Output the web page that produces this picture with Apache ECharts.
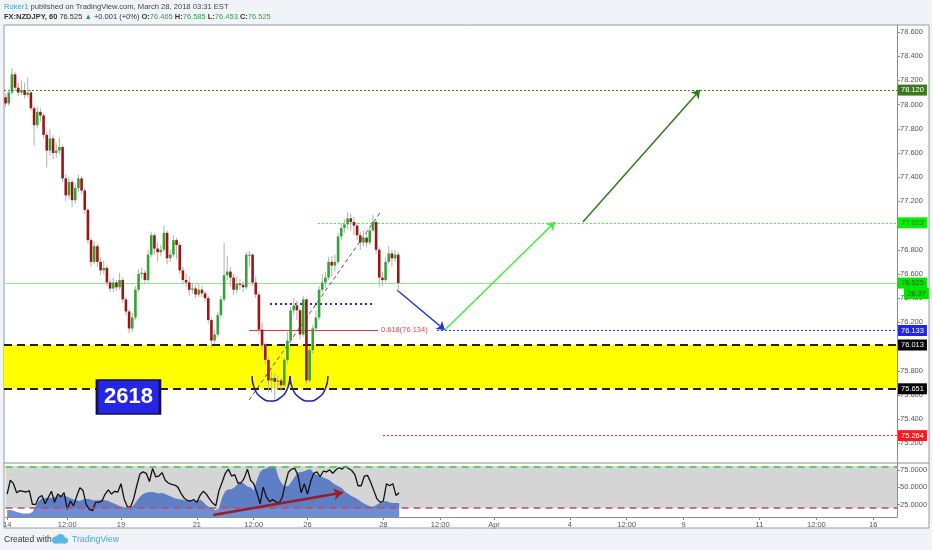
<!DOCTYPE html>
<html><head><meta charset="utf-8">
<script src="https://cdn.jsdelivr.net/npm/echarts@6/dist/echarts.min.js"></script>
<style>html,body{margin:0;padding:0;background:#f0f3f7;}#c{width:932px;height:550px;}</style>
</head><body><div id="c"></div>
<script>
// ---- x axis (2-hour slots) ----
const slotMin = -0.5, slotMax = 281.5;
const tickSlots = [0,19,36,60,78,95,119,137,154,178,196,214,238,256,274];
const tickLabels = ['14','12:00','19','21','12:00','26','28','12:00','Apr','4','12:00','9','11','12:00','16'];
// ---- price (NZDJPY, 2h candles) ----
const firstOpen = 78.06;
const closes = [
78.01,78.10,78.25,78.14,78.10,78.12,78.08,78.10,77.97,77.83,
77.94,77.91,77.75,77.62,77.72,77.60,77.62,77.65,77.39,77.25,
77.36,77.21,77.31,77.39,77.29,77.13,76.88,76.70,76.83,76.70,
76.63,76.65,76.53,76.48,76.53,76.49,76.55,76.39,76.29,76.15,
76.24,76.47,76.60,76.61,76.55,76.76,76.92,76.81,76.78,76.80,
76.94,76.73,76.76,76.88,76.84,76.63,76.55,76.53,76.47,76.48,
76.43,76.47,76.44,76.40,76.22,76.05,76.10,76.26,76.39,76.59,
76.62,76.57,76.47,76.52,76.51,76.49,76.76,76.76,76.53,76.43,
76.14,76.01,75.89,75.72,75.74,75.71,75.72,75.68,75.89,76.05,
76.30,76.34,76.30,76.10,76.39,75.72,75.97,76.15,76.24,76.47,
76.53,76.57,76.70,76.67,76.70,76.91,76.98,77.01,77.06,77.03,
77.00,76.92,76.86,76.90,76.86,76.96,77.03,76.80,76.57,76.55,
76.70,76.77,76.73,76.76,76.525];
const highs = [
78.09,78.13,78.30,78.27,78.18,78.20,78.18,78.22,78.12,77.99,
77.98,77.97,77.93,77.77,77.80,77.75,77.68,77.73,77.67,77.42,
77.40,77.38,77.35,77.42,77.41,77.31,77.15,76.90,76.87,76.85,
76.74,76.71,76.67,76.56,76.57,76.55,76.61,76.57,76.41,76.31,
76.28,76.50,76.64,76.65,76.63,76.80,76.95,76.94,76.86,76.84,
77.00,76.96,76.80,76.92,76.90,76.86,76.66,76.60,76.58,76.53,
76.51,76.52,76.50,76.46,76.42,76.24,76.14,76.29,76.42,76.86,
76.75,76.66,76.60,76.58,76.56,76.54,76.78,76.79,76.77,76.58,
76.45,76.20,76.03,75.91,75.80,75.78,75.76,75.74,75.91,76.12,
76.33,76.40,76.38,76.32,76.42,76.40,76.00,76.18,76.30,76.50,
76.60,76.62,76.74,76.75,76.76,76.94,77.02,77.05,77.11,77.10,
77.07,77.03,76.95,76.96,76.94,77.00,77.09,77.05,76.82,76.62,
76.74,76.83,76.80,76.80,76.78];
const lows = [
77.98,77.99,78.08,78.11,78.07,78.08,78.05,78.06,77.95,77.66,
77.80,77.86,77.72,77.48,77.58,77.55,77.56,77.59,77.36,77.20,
77.22,77.15,77.18,77.28,77.26,77.10,76.85,76.66,76.68,76.66,
76.59,76.60,76.50,76.45,76.45,76.46,76.47,76.36,76.26,76.11,
76.12,76.22,76.45,76.56,76.52,76.53,76.74,76.76,76.70,76.75,
76.78,76.68,76.70,76.74,76.72,76.60,76.52,76.49,76.42,76.44,
76.40,76.41,76.41,76.37,76.19,75.99,76.02,76.08,76.24,76.37,
76.55,76.50,76.43,76.44,76.47,76.45,76.47,76.66,76.50,76.40,
76.10,75.97,75.85,75.62,75.62,75.56,75.64,75.63,75.66,75.86,
76.03,76.26,76.22,76.06,76.08,75.69,75.70,75.94,76.12,76.22,
76.44,76.48,76.55,76.58,76.62,76.68,76.88,76.94,76.97,76.96,
76.92,76.88,76.80,76.83,76.82,76.84,76.94,76.77,76.49,76.50,
76.53,76.68,76.66,76.70,76.453];
// ---- oscillator pane ----
const stochK = [
40,60,55,42,45,44,43,45,25,25,
35,38,26,35,44,28,40,36,42,18,
30,23,37,49,45,25,18,16,28,28,
30,40,46,40,44,43,55,33,22,21,
33,52,69,72,70,58,77,65,66,71,
60,56,54,53,50,41,34,31,30,32,
28,38,44,40,33,27,23,45,57,70,
76,66,68,56,56,63,76,60,55,42,
26,50,36,29,32,29,27,35,55,72,
76,77,67,42,55,40,58,70,72,65,
73,72,75,70,75,78,76,80,77,74,
68,52,52,66,67,57,45,33,28,30,
55,52,55,38,42];
const areaOsc = [
17,17,16,14,13,12,12,12,14,22,
30,34,34,35,34,36,37,38,38,36,
34,32,31,30,32,33,33,31,31,31,
32,31,30,28,26,24,22,21,20,20,
24,30,36,40,42,43,43,42,41,42,
40,38,36,34,33,32,31,31,30,30,
30,32,29,24,21,19,17,20,35,44,
47,47,50,55,56,55,51,50,45,60,
72,76,77,80,80,77,62,54,51,52,
58,65,71,72,73,75,76,70,68,66,
64,62,60,56,53,51,48,43,40,37,
35,32,29,26,24,22,22,25,27,29,
30,28,27,27,27];
const oscLastLabel = '28.37';
const priceTicks = [75.2,75.4,75.6,75.8,76.0,76.2,76.4,76.6,76.8,77.0,77.2,77.4,77.6,77.8,78.0,78.2,78.4,78.6];
const oscTicks = [25,50,75];
const oscUpper = 80, oscLower = 20;
// ---- levels / drawings (data space) ----
const zoneTop = 76.013, zoneBottom = 75.651;
const target1 = 78.120, target2 = 77.023, lastPrice = 76.525, entry = 76.133, stopLevel = 75.264;
const fibLevel = 76.134, fibStart = 76.9, fibEnd = 117.6;
const neckLevel = 76.352, neckStart = 83.5, neckEnd = 115.7;
const trendFrom = [76.9, 75.559], trendTo = [118.2, 77.104];
const arrowBlue = [[123.6, 76.468],[138.7, 76.137]];
const arrowGreen = [[138.7, 76.137],[173.5, 77.030]];
const arrowDark = [[182.3, 77.030],[219.3, 78.120]];
const oscArrow = [[65.2, 9.9],[106.2, 42.2]];
const arc1 = [[77.81,75.757],[78.6,75.654],[80.81,75.578],[83.81,75.550],[86.81,75.578],[89.02,75.654],[89.81,75.757]];
const arc2 = [[89.81,75.757],[90.6,75.654],[92.81,75.578],[95.81,75.550],[98.81,75.578],[101.02,75.654],[101.81,75.757]];
const boxPos = [38.8, 75.584];

const FONT = 'Liberation Sans, Arial, sans-serif';
const ohlc = closes.map((c,i)=>[i, i===0?firstOpen:closes[i-1], c, lows[i], highs[i]]);

function tag(v, bg, fg){
  return {show:true, position:'end', distance:1, formatter: v.toFixed(3), backgroundColor:bg, color:fg,
    padding:[2,3,1,3], fontSize:7.5, fontFamily:FONT};
}
function hline(v, from, style, label){
  return [{coord:[from, v], lineStyle:style, label: label || {show:false}}, {coord:[slotMax, v]}];
}

const chart = echarts.init(document.getElementById('c'), null, {renderer:'canvas'});
const option = {
  animation:false,
  textStyle:{fontFamily:FONT},
  grid:[
    {left:4, right:35, top:25, height:437},
    {left:4, right:35, top:463, height:54}
  ],
  xAxis:[
    {type:'value', gridIndex:0, min:slotMin, max:slotMax, show:false},
    {type:'value', gridIndex:1, min:slotMin, max:slotMax,
      axisLine:{show:true, onZero:false, lineStyle:{color:'#8c8c8c'}},
      axisTick:{show:true, length:3, lineStyle:{color:'#8c8c8c'}, customValues:tickSlots},
      axisLabel:{customValues:tickSlots, fontSize:7.5, color:'#555', margin:4,
        formatter:v=>tickLabels[tickSlots.indexOf(Math.round(v))] || ''},
      splitLine:{show:false}}
  ],
  yAxis:[
    {type:'value', gridIndex:0, position:'right', min:75.046, max:78.658,
      axisLine:{show:true, onZero:false, lineStyle:{color:'#8c8c8c'}},
      axisTick:{show:true, length:3, lineStyle:{color:'#8c8c8c'}, customValues:priceTicks},
      axisLabel:{customValues:priceTicks, fontSize:7.5, color:'#555', margin:3, formatter:v=>v.toFixed(3)},
      splitLine:{show:false}},
    {type:'value', gridIndex:1, position:'right', min:6.9, max:84.85,
      axisLine:{show:true, onZero:false, lineStyle:{color:'#8c8c8c'}},
      axisTick:{show:true, length:3, lineStyle:{color:'#8c8c8c'}, customValues:oscTicks},
      axisLabel:{customValues:oscTicks, fontSize:7.5, color:'#555', margin:3, formatter:v=>v.toFixed(4)},
      splitLine:{show:false}}
  ],
  series:[
    // yellow zone
    {type:'line', xAxisIndex:0, yAxisIndex:0, data:[], z:1, silent:true,
      markArea:{silent:true, itemStyle:{color:'#ffff00'},
        data:[[{coord:[slotMin, zoneTop]},{coord:[slotMax, zoneBottom]}]]}},
    // candles
    {type:'custom', xAxisIndex:0, yAxisIndex:0, z:5, silent:true,
      encode:{x:0, y:[1,2,3,4]}, data:ohlc,
      renderItem:(params, api)=>{
        const x=api.value(0), o=api.value(1), c=api.value(2), l=api.value(3), h=api.value(4);
        const pO=api.coord([x,o]), pC=api.coord([x,c]), pL=api.coord([x,l]), pH=api.coord([x,h]);
        const w=api.size([1,0])[0]*0.82;
        const top=Math.min(pO[1],pC[1]); const bh=Math.max(1,Math.abs(pO[1]-pC[1]));
        return {type:'group', children:[
          {type:'line', shape:{x1:pH[0],y1:pH[1],x2:pL[0],y2:pL[1]}, style:{stroke:'#b0b0b0', lineWidth:1}},
          {type:'rect', shape:{x:pO[0]-w/2, y:top, width:w, height:bh}, style:{fill: c>=o?'#34a334':'#9b1515'}}
        ]};
      }},
    // levels
    {type:'line', xAxisIndex:0, yAxisIndex:0, data:[], z:6, silent:true,
      markLine:{silent:true, symbol:['none','none'], animation:false,
        data:[
          hline(target1, slotMin, {color:'#3b7d1e', type:[2,2], width:1.2}, tag(target1,'#3a7a1c','#ffffff')),
          hline(target2, 98.6, {color:'#3ee83e', type:[2,2], width:1.2}, tag(target2,'#00f000','#1f7a10')),
          hline(lastPrice, slotMin, {color:'#8fe88f', type:'solid', width:1}, tag(lastPrice,'#00e400','#1f6a10')),
          hline(entry, 136.2, {color:'#2a2ae8', type:[2,2], width:1.2}, tag(entry,'#2323f0','#ffffff')),
          hline(zoneTop, slotMin, {color:'#222', type:[8,5], width:2}, tag(zoneTop,'#000000','#ffffff')),
          hline(zoneBottom, slotMin, {color:'#222', type:[8,5], width:2}, tag(zoneBottom,'#000000','#ffffff')),
          hline(stopLevel, 119.2, {color:'#ee3030', type:[2,2], width:1.2}, tag(stopLevel,'#ff1a1a','#ffffff')),
          [{coord:[fibStart, fibLevel], lineStyle:{color:'#e03a3a', type:'solid', width:1.2},
            label:{show:true, position:'end', distance:3, formatter:'0.618('+fibLevel.toFixed(3)+')', color:'#e24848', fontSize:7.5, fontFamily:FONT}},
           {coord:[fibEnd, fibLevel]}],
          [{coord:[neckStart, neckLevel], lineStyle:{color:'#2b2bd6', type:[2,3], width:2}, label:{show:false}},
           {coord:[neckEnd, neckLevel]}],
          [{coord:trendFrom, lineStyle:{color:'#555', type:[4,3], width:1}, label:{show:false}},
           {coord:trendTo}]
        ]}},
    // arrows + 2618 box
    {type:'line', xAxisIndex:0, yAxisIndex:0, data:[], z:7, silent:true,
      markLine:{silent:true, symbol:['none','arrow'], symbolSize:8, animation:false, label:{show:false},
        data:[
          [{coord:arrowBlue[0], lineStyle:{color:'#2035d8', type:'solid', width:1.5}}, {coord:arrowBlue[1]}],
          [{coord:arrowGreen[0], lineStyle:{color:'#3cf03c', type:'solid', width:1.5}}, {coord:arrowGreen[1]}],
          [{coord:arrowDark[0], lineStyle:{color:'#2f7a1c', type:'solid', width:1.5}}, {coord:arrowDark[1]}]
        ]},
      markPoint:{silent:true, animation:false,
        data:[{coord:boxPos, symbol:'rect', symbolSize:[63,34],
          itemStyle:{color:'#2525e8', borderColor:'#11114a', borderWidth:2},
          label:{show:true, position:'inside', formatter:'2618', color:'#fff', fontSize:22, fontWeight:'bold', fontFamily:FONT}}]}},
    // arcs
    {type:'line', xAxisIndex:0, yAxisIndex:0, data:arc1, smooth:true, symbol:'none', z:7, silent:true,
      lineStyle:{color:'#2222a8', width:1.5}},
    {type:'line', xAxisIndex:0, yAxisIndex:0, data:arc2, smooth:true, symbol:'none', z:7, silent:true,
      lineStyle:{color:'#2222a8', width:1.5}},
    // oscillator band
    {type:'line', xAxisIndex:1, yAxisIndex:1, data:[], z:1, silent:true,
      markArea:{silent:true, itemStyle:{color:'#d5d5d5'},
        data:[[{coord:[slotMin, oscUpper]},{coord:[slotMax, oscLower]}]]}},
    // blue area
    {type:'line', xAxisIndex:1, yAxisIndex:1, z:2, silent:true, symbol:'none',
      data:areaOsc.map((v,i)=>[i,v]),
      lineStyle:{width:0}, areaStyle:{origin:'start', color:'rgba(30,80,190,0.65)', opacity:1}},
    // black line
    {type:'line', xAxisIndex:1, yAxisIndex:1, z:3, silent:true, symbol:'none',
      data:stochK.map((v,i)=>[i,v]),
      lineStyle:{color:'#111', width:1.3}},
    // bands + arrow
    {type:'line', xAxisIndex:1, yAxisIndex:1, data:[], z:4, silent:true,
      markLine:{silent:true, symbol:['none','none'], animation:false, label:{show:false},
        data:[
          [{coord:[slotMin, oscUpper], lineStyle:{color:'#3ccc3c', type:[7,5], width:1.5}}, {coord:[slotMax, oscUpper]}],
          [{coord:[slotMin, oscLower], lineStyle:{color:'#c8485c', type:[7,5], width:1.5}}, {coord:[slotMax, oscLower]}],
          [{coord:oscArrow[0], symbol:'none', lineStyle:{color:'#9b1c22', type:'solid', width:2.5}}, {coord:oscArrow[1], symbol:'arrow', symbolSize:9}]
        ]}}
  ],
  graphic:[
    {type:'rect', z:-100, silent:true, shape:{x:4, y:25, width:925, height:503}, style:{fill:'#ffffff', stroke:'#9a9a9a', lineWidth:1}},
    {type:'line', z:100, silent:true, shape:{x1:4, y1:463, x2:929, y2:463}, style:{stroke:'#8c8c8c', lineWidth:1}},
    {type:'text', left:4, top:3, silent:true, style:{
      text:'{a|Roker1}{t| published on TradingView.com, March 28, 2018 03:31 EST}',
      rich:{a:{fill:'#3fa0d8', fontSize:7.6, fontFamily:FONT}, t:{fill:'#444', fontSize:7.6, fontFamily:FONT}}}},
    {type:'text', left:4, top:13, silent:true, style:{
      text:'{b|FX:NZDJPY, 60}{n| 76.525 }{g|▲}{n| +0.001 (+0%) }{b|O:}{g|76.465 }{b|H:}{g|76.585 }{b|L:}{g|76.453 }{b|C:}{g|76.525}',
      rich:{b:{fill:'#333', fontSize:7.5, fontWeight:'bold', fontFamily:FONT}, n:{fill:'#333', fontSize:7.5, fontFamily:FONT},
            g:{fill:'#2fa84a', fontSize:7.5, fontFamily:FONT}}}},
    {type:'text', left:4, top:535, silent:true, style:{text:'Created with', fill:'#333', fontSize:8.5, fontFamily:FONT}},
    {type:'group', left:52, top:534, silent:true, children:[
      {type:'circle', shape:{cx:5, cy:6, r:3.5}, style:{fill:'#5bb6e4'}},
      {type:'circle', shape:{cx:10, cy:4.5, r:4.5}, style:{fill:'#5bb6e4'}},
      {type:'circle', shape:{cx:14.5, cy:6.5, r:3}, style:{fill:'#5bb6e4'}},
      {type:'rect', shape:{x:4, y:6, width:11, height:3.5}, style:{fill:'#5bb6e4'}}
    ]},
    {type:'text', left:72, top:535, silent:true, style:{text:'TradingView', fill:'#4aa3dd', fontSize:8.5, fontFamily:FONT}}
  ]
};
chart.setOption(option);
// indicator value tag under the last-price tag
const yLast = chart.convertToPixel({yAxisIndex:0}, lastPrice);
chart.setOption({graphic:[{type:'text', id:'oscTag', left:904, top:yLast+5, silent:true, z:100,
  style:{text:oscLastLabel, backgroundColor:'#00e400', fill:'#1f6a10', padding:[2,3,1,3], fontSize:7.5, fontFamily:FONT}}]});
</script>
</body></html>
